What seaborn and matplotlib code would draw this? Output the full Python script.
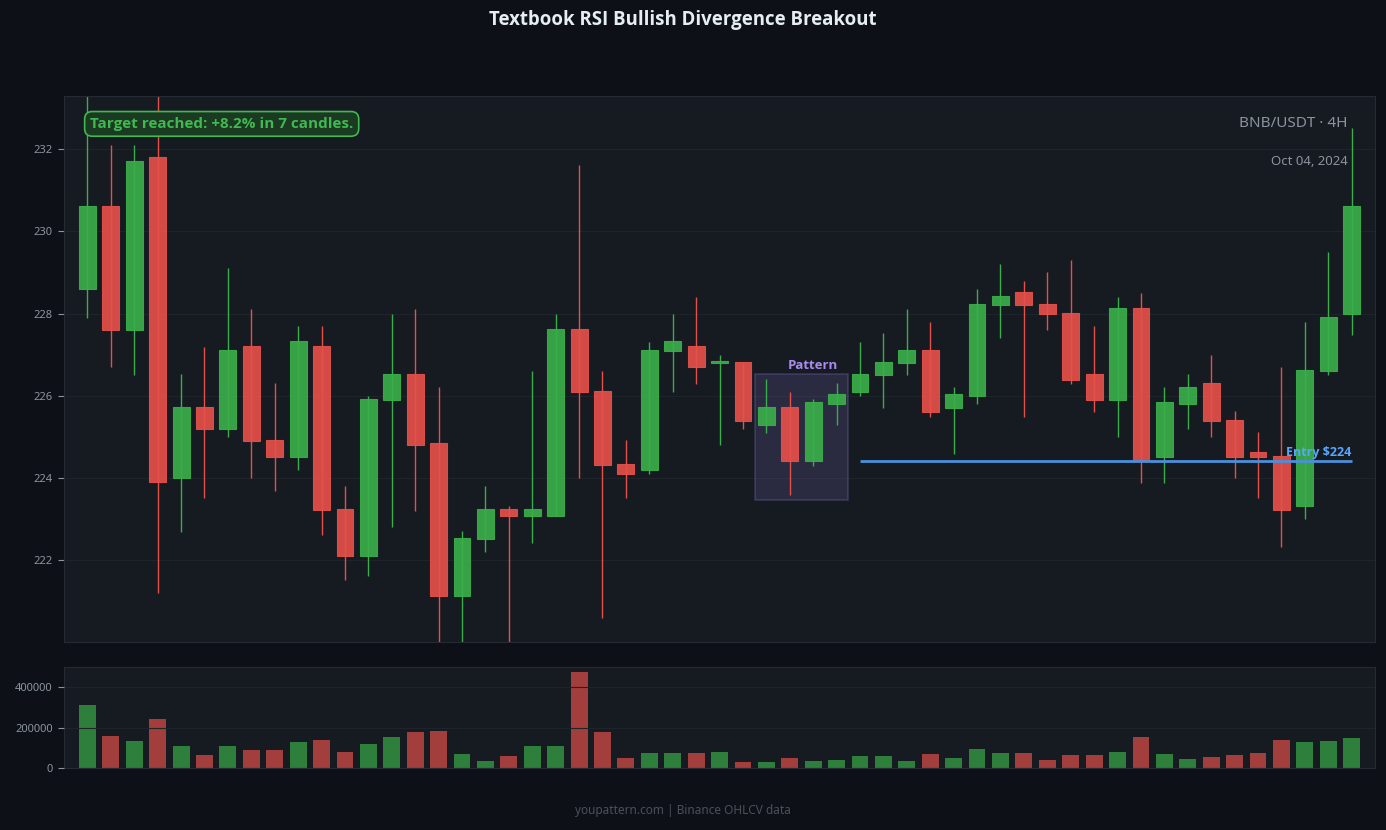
import numpy as np
import pandas as pd
import matplotlib
matplotlib.use("Agg")
import matplotlib.pyplot as plt
from matplotlib.patches import Rectangle
import seaborn as sns

# ---------------- data ----------------
opens = [228.60, 230.63, 227.60, 231.82, 224.00, 225.73, 225.20, 227.21, 224.93, 224.50,
         227.21, 223.24, 222.10, 225.90, 226.54, 224.84, 221.11, 222.50, 223.24, 223.08,
         223.08, 227.63, 226.12, 224.34, 224.20, 227.09, 227.21, 226.80, 226.82, 225.29,
         225.73, 224.41, 225.81, 226.10, 226.50, 226.80, 227.12, 225.71, 226.00, 228.20,
         228.52, 228.23, 228.02, 226.54, 225.90, 228.14, 224.50, 225.81, 226.32, 225.42,
         224.62, 224.52, 223.32, 226.61, 227.99]
highs = [233.80, 232.10, 232.10, 233.60, 226.52, 227.19, 229.12, 228.12, 226.30, 227.71,
         227.71, 223.80, 226.00, 228.00, 228.12, 226.21, 222.71, 223.80, 223.32, 226.61,
         228.00, 231.61, 226.61, 224.92, 227.32, 228.00, 228.41, 227.00, 226.82, 226.40,
         226.10, 225.91, 226.30, 227.32, 227.52, 228.12, 227.80, 226.21, 228.61, 229.21,
         228.80, 229.01, 229.31, 227.71, 228.41, 228.51, 226.21, 226.52, 227.00, 225.62,
         225.12, 226.71, 227.80, 229.50, 232.51]
lows = [227.89, 226.70, 226.50, 221.19, 222.69, 223.50, 225.00, 224.00, 223.69, 224.20,
        222.61, 221.51, 221.61, 222.80, 223.20, 219.70, 219.80, 222.19, 219.80, 222.41,
        223.08, 224.00, 220.59, 223.50, 224.10, 226.10, 226.28, 224.81, 225.19, 225.10,
        223.59, 224.29, 225.29, 226.00, 225.71, 226.50, 225.49, 224.59, 225.79, 227.40,
        225.49, 227.59, 226.28, 225.61, 225.00, 223.88, 223.88, 225.19, 225.00, 224.00,
        223.50, 222.31, 223.00, 226.50, 227.49]
closes = [230.63, 227.60, 231.72, 223.90, 225.73, 225.20, 227.12, 224.90, 224.50, 227.33,
          223.21, 222.10, 225.93, 226.54, 224.81, 221.11, 222.54, 223.24, 223.08, 223.24,
          227.63, 226.10, 224.30, 224.10, 227.12, 227.33, 226.71, 226.85, 225.39, 225.73,
          224.41, 225.84, 226.03, 226.54, 226.82, 227.12, 225.61, 226.03, 228.23, 228.42,
          228.20, 227.99, 226.39, 225.90, 228.14, 224.41, 225.84, 226.22, 225.39, 224.50,
          224.50, 223.21, 226.63, 227.91, 230.63]
volumes = [312400, 158700, 133900, 243000, 109100, 64500, 109100, 89300, 89300, 128900,
           138800, 79300, 119000, 153700, 178500, 183500, 69400, 34700, 59500, 109100,
           109100, 476000, 178500, 49600, 74400, 74400, 74400, 79300, 29800, 29800,
           49600, 34700, 39700, 59500, 59500, 34700, 69400, 49600, 94200, 74400,
           74400, 39700, 64500, 64500, 79300, 153700, 69400, 44600, 54500, 64500,
           74400, 138800, 128900, 133900, 148800]

price_ticks = [222, 224, 226, 228, 230, 232]
volume_ticks = [0, 200000, 400000]
pattern_start, pattern_end = 29, 32
entry_price = 224.41
entry_start = 33
title = "Textbook RSI Bullish Divergence Breakout"
pair_label = "BNB/USDT · 4H"
date_label = "Oct 04, 2024"
target_text = "Target reached: +8.2% in 7 candles."
entry_text = "Entry $224"
footer = "youpattern.com | Binance OHLCV data"

# ---------------- style ----------------
BG = "#0d1017"
FACE = "#161a21"
GRID = "#1f242b"
SPINE = "#262b33"
TXT = "#8b949e"
GREEN = "#3aae4a"
RED = "#e5504a"
BOLD = ["Open Sans", "DejaVu Sans"]

sns.set_theme(style="dark", rc={
    "figure.facecolor": BG,
    "axes.facecolor": FACE,
    "axes.edgecolor": SPINE,
    "grid.color": GRID,
    "xtick.color": TXT,
    "ytick.color": TXT,
    "text.color": TXT,
})
plt.rcParams["font.family"] = ["Noto Sans", "DejaVu Sans"]

n = len(opens)
idx = np.arange(n)
o = np.array(opens); h = np.array(highs); l = np.array(lows); c = np.array(closes)
up = c >= o
cols = np.where(up, GREEN, RED)

fig = plt.figure(figsize=(13.86, 8.30), dpi=100)
ax = fig.add_axes([0.0462, 0.2265, 0.9459, 0.6578])
axv = fig.add_axes([0.0462, 0.0747, 0.9459, 0.1217])

# ---------------- candles ----------------
ax.vlines(idx, l, h, colors=cols, linewidth=1.0, zorder=2)
body_bottom = np.minimum(o, c)
body_h = np.maximum(np.abs(c - o), 0.04)
ax.bar(idx, body_h, bottom=body_bottom, width=0.72, color=cols, alpha=0.92,
       edgecolor=cols, linewidth=0.8, zorder=3)

ax.set_xlim(-1, 55)
ax.set_ylim(220.0, 233.3)
ax.set_yticks(price_ticks)
ax.set_yticklabels([str(t) for t in price_ticks])
ax.set_xticks([])
ax.grid(axis="y", color=GRID, linewidth=0.8)
ax.grid(axis="x", visible=False)
ax.tick_params(axis="y", length=4, width=0.8, color=TXT, labelsize=8, pad=4, left=True)
for s in ax.spines.values():
    s.set_color(SPINE)
    s.set_linewidth(0.8)

# pattern box
pl = min(lows[pattern_start:pattern_end + 1]) - 0.13
ph = max(highs[pattern_start:pattern_end + 1]) + 0.13
rect = Rectangle((pattern_start - 0.5, pl), pattern_end - pattern_start + 1, ph - pl,
                 facecolor=(0.49, 0.42, 0.77, 0.2), edgecolor=(0.45, 0.40, 0.70, 0.35),
                 linewidth=1.2, zorder=1)
ax.add_patch(rect)
ax.text((pattern_start + pattern_end) / 2 + 0.5, ph + 0.05, "Pattern",
        ha="center", va="bottom", color="#a98bf0", fontsize=9.5, fontweight="bold",
        family=BOLD, zorder=5)

# entry line
ax.hlines(entry_price, entry_start, n - 1, colors="#4a8fdb", linewidth=2.0, zorder=4)
ax.text(n - 1, entry_price + 0.06, entry_text, ha="right", va="bottom",
        color="#58a6ff", fontsize=9, fontweight="bold", family=BOLD, zorder=5)

# annotations
ax.text(0.0198, 0.949, target_text, transform=ax.transAxes, ha="left", va="center",
        color="#3fb950", fontsize=11, fontweight="bold", family=BOLD, zorder=6,
        bbox=dict(boxstyle="round,pad=0.35,rounding_size=0.5", facecolor="#1b3a22",
                  edgecolor="#3fb950", linewidth=1.2))
ax.text(0.979, 0.949, pair_label, transform=ax.transAxes, ha="right", va="center",
        color=TXT, fontsize=11)
ax.text(0.979, 0.881, date_label, transform=ax.transAxes, ha="right", va="center",
        color=TXT, fontsize=9.5)

# ---------------- volume ----------------
vdf = pd.DataFrame({"idx": idx, "vol": volumes,
                    "dir": np.where(up, "up", "down")})
sns.barplot(data=vdf, x="idx", y="vol", hue="dir", palette={"up": GREEN, "down": RED},
            native_scale=True, dodge=False, width=0.72, alpha=0.68, linewidth=0,
            saturation=1, errorbar=None, legend=False, ax=axv)
axv.set_xlim(-1, 55)
axv.set_ylim(0, max(volumes) * 1.05)
axv.set_yticks(volume_ticks)
axv.set_yticklabels([str(t) for t in volume_ticks])
axv.set_xticks([])
axv.set_xlabel("")
axv.set_ylabel("")
axv.set_axisbelow(False)
axv.grid(axis="y", color=GRID, linewidth=0.8)
axv.grid(axis="x", visible=False)
axv.tick_params(axis="y", length=4, width=0.8, color=TXT, labelsize=8, pad=4, left=True)
for s in axv.spines.values():
    s.set_color(SPINE)
    s.set_linewidth(0.8)

# ---------------- titles ----------------
fig.text(0.4924, 0.976, title, ha="center", va="center", color="#e6edf3",
         fontsize=13.4, fontweight="bold", family=BOLD)
fig.text(0.4924, 0.024, footer, ha="center", va="center", color="#4a5059", fontsize=8.5)

fig.savefig("out.png", dpi=100, facecolor=BG)
